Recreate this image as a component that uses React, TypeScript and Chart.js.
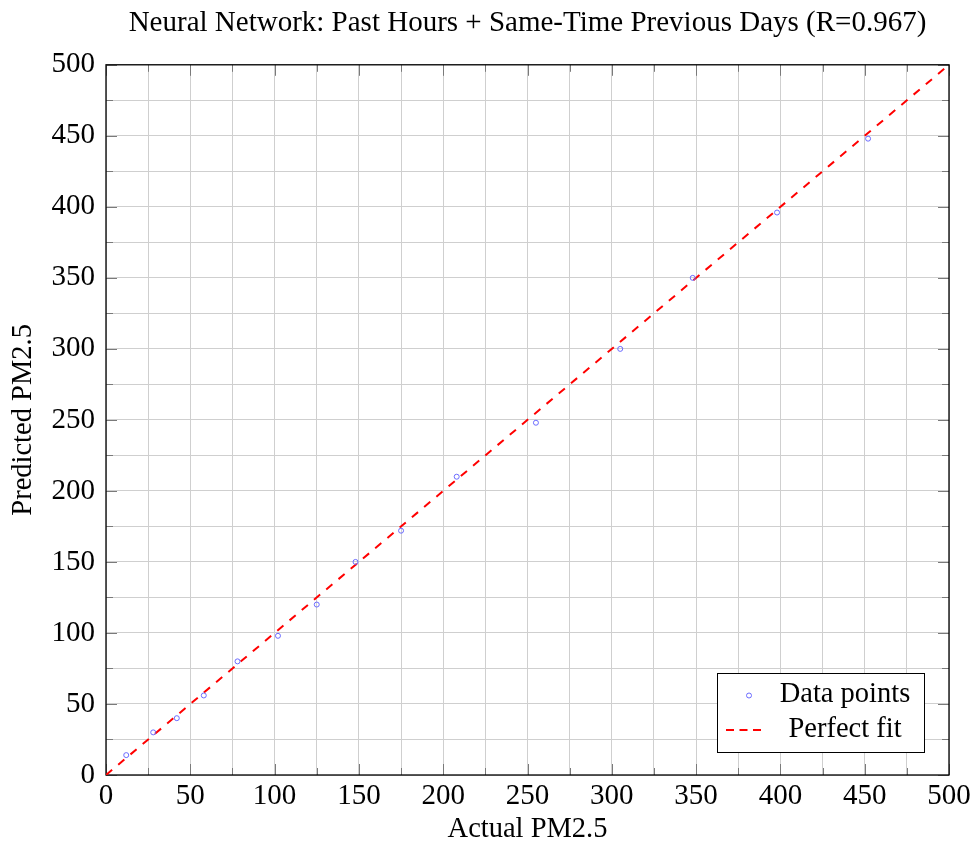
import React, { useEffect, useRef } from "react";
import { Chart, registerables } from "chart.js";

Chart.register(...registerables);

// ---- data ----
const actualPM25 = [12, 28, 42, 58, 78, 102, 125, 148, 175, 208, 255, 305, 348, 398, 452];
const predictedPM25 = [14, 30, 40, 56, 80, 98, 120, 150, 172, 210, 248, 300, 350, 396, 448];
const fitX = [0, 500];
const fitY = [0, 500];
const axisMin = 0;
const axisMax = 500;
const majorStep = 50;
const minorStep = 25;
const titleText = "Neural Network: Past Hours + Same-Time Previous Days (R=0.967)";
const xTitle = "Actual PM2.5";
const yTitle = "Predicted PM2.5";
const legendLabels = ["Data points", "Perfect fit"];

const FONT = "'Liberation Serif', 'Times New Roman', serif";

const framePlugin = {
  id: "frameTicks",
  beforeDatasetsDraw(chart: any) {
    const { ctx, chartArea } = chart;
    const xs = chart.scales.x;
    const ys = chart.scales.y;
    ctx.save();
    ctx.strokeStyle = "#7a7a7a";
    ctx.lineWidth = 1;
    for (let v = axisMin; v <= axisMax; v += minorStep) {
      const len = v % majorStep === 0 ? 11 : 7;
      const px = Math.round(xs.getPixelForValue(v)) + 0.5;
      const py = Math.round(ys.getPixelForValue(v)) + 0.5;
      ctx.beginPath();
      ctx.moveTo(px, chartArea.bottom);
      ctx.lineTo(px, chartArea.bottom - len);
      ctx.moveTo(px, chartArea.top);
      ctx.lineTo(px, chartArea.top + len);
      ctx.moveTo(chartArea.left, py);
      ctx.lineTo(chartArea.left + len, py);
      ctx.moveTo(chartArea.right, py);
      ctx.lineTo(chartArea.right - len, py);
      ctx.stroke();
    }
    ctx.strokeStyle = "#000";
    ctx.lineWidth = 1.3;
    ctx.strokeRect(chartArea.left, chartArea.top, chartArea.right - chartArea.left, chartArea.bottom - chartArea.top);
    ctx.restore();
  },
};

const legendPlugin = {
  id: "insideLegend",
  afterDraw(chart: any) {
    const { ctx, chartArea } = chart;
    const w = 207;
    const h = 79;
    const right = chartArea.right - 25;
    const bottom = chartArea.bottom - 23;
    const left = right - w;
    const top = bottom - h;
    ctx.save();
    ctx.fillStyle = "#fff";
    ctx.fillRect(left, top, w, h);
    ctx.strokeStyle = "#000";
    ctx.lineWidth = 1;
    ctx.strokeRect(left + 0.5, top + 0.5, w, h);
    ctx.strokeStyle = "rgba(100,100,255,0.95)";
    ctx.lineWidth = 1;
    ctx.beginPath();
    ctx.arc(left + 32, top + 22.5, 2.5, 0, Math.PI * 2);
    ctx.stroke();
    ctx.strokeStyle = "#ff0000";
    ctx.lineWidth = 2;
    ctx.setLineDash([8, 5.5]);
    ctx.beginPath();
    ctx.moveTo(left + 9, top + 57);
    ctx.lineTo(left + 49, top + 57);
    ctx.stroke();
    ctx.setLineDash([]);
    ctx.fillStyle = "#000";
    ctx.font = `28.5px ${FONT}`;
    ctx.textAlign = "center";
    ctx.textBaseline = "middle";
    ctx.fillText(legendLabels[0], left + 128, top + 22);
    ctx.fillText(legendLabels[1], left + 128, top + 57);
    ctx.restore();
  },
};

export default function App() {
  const ref = useRef<HTMLCanvasElement | null>(null);
  useEffect(() => {
    if (!ref.current) return;
    const scatterData = actualPM25.map((x, i) => ({ x, y: predictedPM25[i] }));
    const lineData = fitX.map((x, i) => ({ x, y: fitY[i] }));
    const tickCb = (v: any) => (Number(v) % majorStep === 0 ? String(v) : "");
    const chart = new Chart(ref.current, {
      type: "scatter",
      data: {
        datasets: [
          {
            type: "scatter",
            label: legendLabels[0],
            data: scatterData,
            pointStyle: "circle",
            pointRadius: 2.5,
            pointBorderWidth: 1,
            borderColor: "rgba(100,100,255,0.95)",
            backgroundColor: "rgba(255,255,255,0)",
          } as any,
          {
            type: "line",
            label: legendLabels[1],
            data: lineData,
            borderColor: "#ff0000",
            borderWidth: 2,
            borderDash: [8, 8],
            pointRadius: 0,
            fill: false,
          } as any,
        ],
      },
      options: {
        responsive: false,
        animation: false,
        events: [],
        layout: { padding: { left: 0, right: 28, top: 0, bottom: 0 } },
        plugins: {
          legend: { display: false },
          tooltip: { enabled: false },
          title: {
            display: true,
            text: titleText,
            fullSize: false,
            color: "#000",
            font: { family: FONT, size: 29, weight: "normal" },
            padding: { top: 6, bottom: 24 },
          },
        },
        scales: {
          x: {
            type: "linear",
            min: axisMin,
            max: axisMax,
            afterFit(scale: any) {
              scale.height = 76;
            },
            ticks: {
              stepSize: minorStep,
              autoSkip: false,
              maxRotation: 0,
              padding: 4,
              color: "#000",
              font: { family: FONT, size: 29 },
              callback: tickCb,
            },
            grid: { color: "#cfcfcf", lineWidth: 1, drawTicks: false },
            border: { display: false },
            title: {
              display: true,
              text: xTitle,
              color: "#000",
              font: { family: FONT, size: 28.5 },
              padding: { top: 0, bottom: 4 },
            },
          },
          y: {
            type: "linear",
            min: axisMin,
            max: axisMax,
            afterFit(scale: any) {
              scale.width = 106;
            },
            ticks: {
              stepSize: minorStep,
              autoSkip: false,
              padding: 11,
              color: "#000",
              font: { family: FONT, size: 29 },
              callback: tickCb,
            },
            grid: { color: "#cfcfcf", lineWidth: 1, drawTicks: false },
            border: { display: false },
            title: {
              display: true,
              text: yTitle,
              color: "#000",
              font: { family: FONT, size: 28.5 },
              padding: { top: 6, bottom: 0 },
            },
          },
        },
      },
      plugins: [framePlugin, legendPlugin],
    } as any);
    return () => chart.destroy();
  }, []);
  return (
    <div style={{ position: "fixed", left: 0, top: 0, width: 977, height: 851, background: "#fff" }}>
      <canvas ref={ref} width={977} height={851} style={{ display: "block", width: 977, height: 851 }} />
    </div>
  );
}
